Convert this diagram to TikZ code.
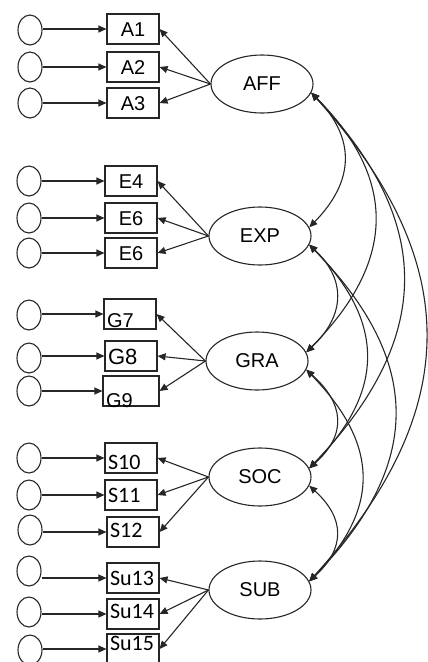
\documentclass[tikz,border=0pt]{standalone}
\usepackage{fontspec}
\setmainfont{Liberation Sans}
\newfontfamily\calfont{Carlito}
\usetikzlibrary{arrows.meta}
\usetikzlibrary{shapes}

\begin{document}
\begin{tikzpicture}[x=1pt,y=-1pt,line width=1.1pt,draw=black!85,
    tip/.style={-{Triangle[length=8pt,width=7pt]}},
    cov/.style={{Triangle[length=8pt,width=7pt]}-{Triangle[length=8pt,width=7pt]}},
    err/.style={draw,ellipse,minimum width=24pt,minimum height=30pt,inner sep=0pt},
    obs/.style={draw,rectangle,minimum width=52pt,minimum height=30pt,inner sep=0pt,
      text height=14pt,text depth=0pt,font=\fontsize{20}{22}\selectfont},
    obsl/.style={obs,text width=46pt,align=left,inner xsep=3pt},
    obsc/.style={obsl,font=\calfont\fontsize{22}{24}\selectfont},
    lat/.style={draw,ellipse,minimum width=102pt,minimum height=58pt,inner sep=0pt,
      font=\fontsize{20}{22}\selectfont}]
  \useasboundingbox (0,0) rectangle (428,662);

  % latent factors
  \node[lat] (aff) at (262,84) {AFF};
  \node[lat] (exp) at (260,236) {EXP};
  \node[lat] (gra) at (257,361) {GRA};
  \node[lat] (soc) at (260,477) {SOC};
  \node[lat] (sub) at (260,590) {SUB};

  % items
  \node[obs] (a1) at (133,29) {A1};
  \node[obs] (a2) at (133,67) {A2};
  \node[obs] (a3) at (133,103) {A3};
  \node[obs] (e4) at (131,181) {E4};
  \node[obs] (e5) at (131,218) {E6};
  \node[obs] (e6) at (131,253) {E6};
  \node[obsl] (g7) at (130,314) {\raisebox{-6pt}{G7}};
  \node[obsl] (g8) at (131,356) {\raisebox{-1pt}{\fontsize{22}{24}\selectfont G8}};
  \node[obsl,text width=50pt] (g9) at (131,391) {\raisebox{-9pt}{G9}};
  \node[obsc] (s10) at (131,458) {\raisebox{-4pt}{S10}};
  \node[obsc] (s11) at (131,495) {S11};
  \node[obsc] (s12) at (133,532) {\raisebox{2pt}{S12}};
  \node[obsc] (su13) at (133,578) {Su13};
  \node[obsc] (su14) at (133,614) {\raisebox{3pt}{Su14}};
  \node[obsc] (su15) at (133,649) {\raisebox{6pt}{Su15}};

  % error terms
  \node[err] (ea1) at (30,30) {};
  \node[err] (ea2) at (30,67) {};
  \node[err] (ea3) at (30,103) {};
  \node[err] (ee4) at (29,181) {};
  \node[err] (ee5) at (29,218) {};
  \node[err] (ee6) at (29,253) {};
  \node[err] (eg7) at (29,315) {};
  \node[err] (eg8) at (29,358) {};
  \node[err] (eg9) at (29,391) {};
  \node[err] (es10) at (29,458) {};
  \node[err] (es11) at (29,495) {};
  \node[err] (es12) at (30,530) {};
  \node[err] (esu13) at (29,571) {};
  \node[err] (esu14) at (29,612) {};
  \node[err] (esu15) at (30,650) {};

  \foreach \e/\b in {ea1/a1,ea2/a2,ea3/a3,ee4/e4,ee5/e5,ee6/e6,eg7/g7,eg8/g8,eg9/g9,
      es10/s10,es11/s11,es12/s12,esu13/su13,esu14/su14,esu15/su15}
    \draw[tip] (\e.east |- \b.west) -- (\b.west);

  % loadings
  \foreach \b in {a1,a2,a3} \draw[tip] (aff.west) -- (\b.east);
  \foreach \b in {e4,e5,e6} \draw[tip] (exp.west) -- (\b.east);
  \foreach \b in {g7,g8,g9} \draw[tip] (gra.west) -- (\b.east);
  \foreach \b in {s10,s11,s12} \draw[tip] (soc.west) -- (\b.east);
  \foreach \b in {su13,su14,su15} \draw[tip] (sub.west) -- (\b.east);

  % covariances
  \draw[cov] (aff.-10) .. controls +(45,46) and +(45,-46) .. (exp.10);
  \draw[cov] (aff.-10) .. controls +(88,89) and +(88,-89) .. (gra.10);
  \draw[cov] (aff.-10) .. controls +(124,130) and +(124,-130) .. (soc.10);
  \draw[cov] (aff.-10) .. controls +(154,170) and +(154,-170) .. (sub.10);
  \draw[cov] (exp.-10) .. controls +(38,36) and +(38,-36) .. (gra.10);
  \draw[cov] (exp.-10) .. controls +(76,77) and +(76,-77) .. (soc.10);
  \draw[cov] (exp.-10) .. controls +(114,117) and +(114,-117) .. (sub.10);
  \draw[cov] (gra.-10) .. controls +(38,34) and +(38,-34) .. (soc.10);
  \draw[cov] (gra.-10) .. controls +(72,74) and +(72,-74) .. (sub.10);
  \draw[cov] (soc.-10) .. controls +(36,33) and +(36,-33) .. (sub.10);
\end{tikzpicture}
\end{document}
